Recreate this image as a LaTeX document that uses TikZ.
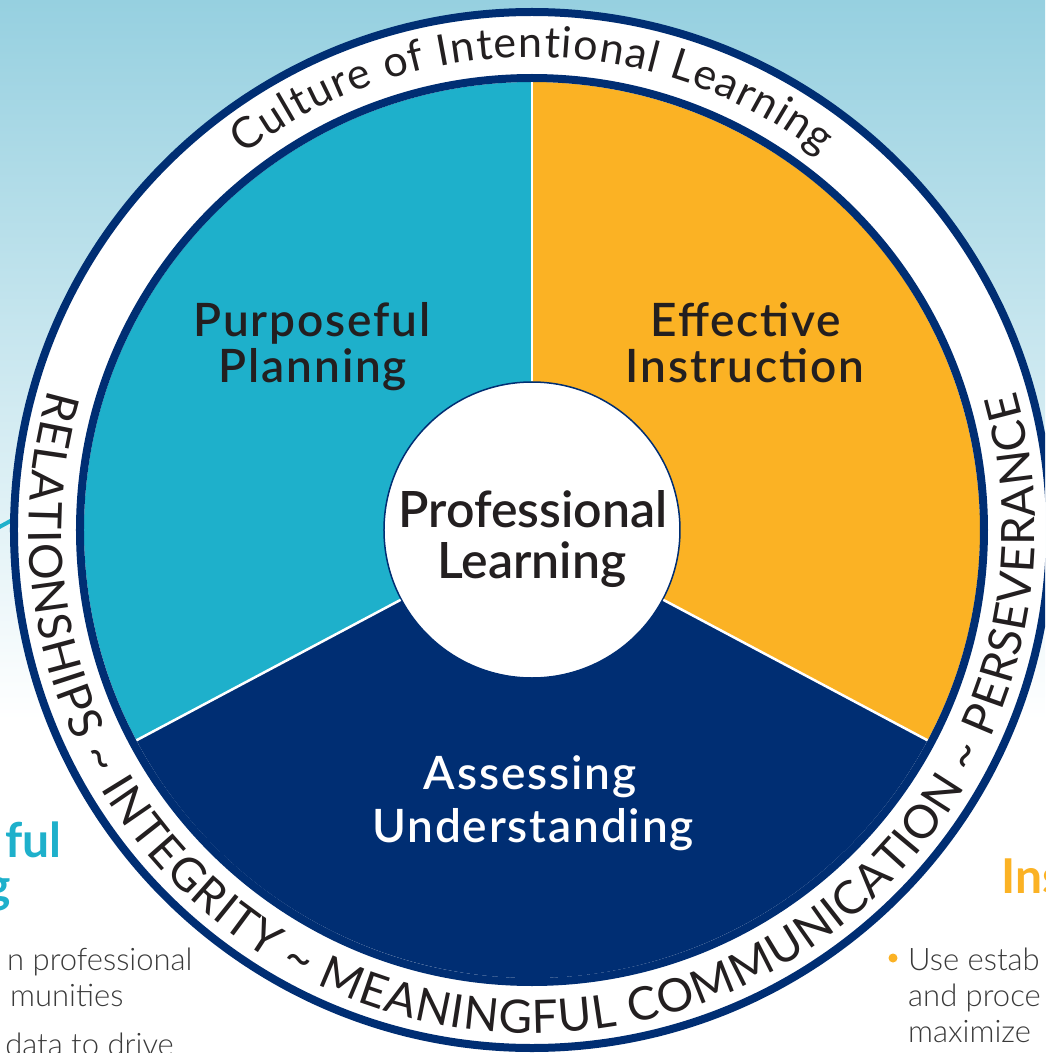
\documentclass[tikz,border=0pt]{standalone}
\usepackage{fontspec}
\setmainfont{Lato}
\IfFontExistsTF{Lato Semibold}{%
	\newfontfamily\labelfont[LetterSpace=4]{Lato Semibold}\newfontfamily\hubfont{Lato Semibold}}{%
	\newfontfamily\labelfont[LetterSpace=4,FakeBold=0.6]{Lato}\newfontfamily\hubfont[FakeBold=0.6]{Lato}}
\IfFontExistsTF{Lato Light}{\newfontfamily\bodyfont{Lato Light}}{\newfontfamily\bodyfont{Lato}}
\usetikzlibrary{decorations.text}

\definecolor{navy}{RGB}{0,46,115}
\definecolor{planblue}{RGB}{30,176,203}
\definecolor{instrorange}{RGB}{251,178,36}
\definecolor{sky}{RGB}{150,208,224}
\definecolor{ink}{RGB}{35,31,32}
\definecolor{bodygray}{RGB}{58,58,58}

\newcommand\ringfont{\fontsize{43}{43}\selectfont}
\newcommand\bandfont{\fontsize{46}{46}\selectfont}

\begin{document}
\begin{tikzpicture}[x=1pt,y=1pt,
	pielabel/.style={anchor=base, inner sep=0pt, text=ink, font=\labelfont\fontsize{46}{46}\selectfont},
	hublabel/.style={anchor=base, inner sep=0pt, text=ink, font=\hubfont\fontsize{50}{50}\selectfont},
	sidehead/.style={inner sep=0pt, font=\bfseries\fontsize{48}{48}\selectfont},
	sidebody/.style={inner sep=0pt, text=bodygray, font=\bodyfont\fontsize{31}{31}\selectfont},
	divider/.style={white, line width=2.5pt}]
	\clip (-532,-523) rectangle (513,530);
	
	%background
	\fill[white] (-532,-523) rectangle (513,530);
	\shade[top color=sky, bottom color=white] (-532,-190) rectangle (513,530);
	\draw[planblue, line width=4pt] (-540,-1) -- (-505,18);
	
	%outer ring
	\fill[white] (0,0) circle[radius=518];
	\draw[navy, line width=8pt] (0,0) circle[radius=518];
	
	%sectors
	\fill[planblue] (0,0) -- (90:448) arc[start angle=90, end angle=208, radius=448] -- cycle;
	\fill[instrorange] (0,0) -- (-28:448) arc[start angle=-28, end angle=90, radius=448] -- cycle;
	\fill[navy] (0,0) -- (208:448) arc[start angle=208, end angle=332, radius=448] -- cycle;
	\draw[navy, line width=8pt] (0,0) circle[radius=452];
	
	%hub
	\node[circle, fill=white, draw=navy, line width=1.5pt, minimum size=296pt, inner sep=0pt] (hub) at (0,0) {};
	\draw[divider] (hub.90) -- (90:448);
	\draw[divider] (hub.208) -- (208:448);
	\draw[divider] (hub.332) -- (332:448);
	
	%labels
	\node[pielabel] (pp1) at (-220,194) {Purposeful};
	\node[pielabel] (pp2) at (-219,148) {Planning};
	\node[pielabel] (ei1) at (214,194) {Effective};
	\node[pielabel] (ei2) at (213,148) {Instruction};
	\node[pielabel, text=white] (au1) at (-2,-259) {Assessing};
	\node[pielabel, text=white] (au2) at (1,-312) {Understanding};
	\node[hublabel] (pl1) at (1,3) {Professional};
	\node[hublabel] (pl2) at (0,-48) {Learning};
	
	%ring texts
	\path[decorate, decoration={text along path, text align={fit to path}, text color=ink,
		text={|\ringfont|Culture of Intentional Learning}}]
		(127.5:473) arc[start angle=127.5, end angle=52.5, radius=473];
	\path[decorate, decoration={text along path, text align={fit to path}, text color=ink,
		text={|\bandfont|RELATIONSHIPS {\textasciitilde} INTEGRITY {\textasciitilde} MEANINGFUL COMMUNICATION {\textasciitilde} PERSEVERANCE}}]
		(163.8:503) arc[start angle=163.8, end angle=376, radius=503];
	
	%page text around
	\node[sidehead, text=planblue, anchor=base east] (ful) at (-470,-327) {ful};
	\node[sidehead, text=planblue, anchor=base east] (gg) at (-521,-372) {g};
	\node[sidebody, anchor=base west] (prof) at (-525,-440) {n professional};
	\node[sidebody, anchor=base west] (comm) at (-522,-476) {munities};
	\node[sidebody, anchor=base east] (data) at (-358,-525) {data to drive};
	\node[sidehead, text=instrorange, anchor=base west] (ins) at (469,-363) {Ins};
	\node[circle, fill=instrorange, inner sep=0pt, minimum size=9pt] (dot) at (361,-428) {};
	\node[sidebody, anchor=base west] (use) at (376,-440) {Use estab};
	\node[sidebody, anchor=base west] (proc) at (376,-476) {and proce};
	\node[sidebody, anchor=base west] (maxi) at (376,-512) {maximize};
\end{tikzpicture}
\end{document}
